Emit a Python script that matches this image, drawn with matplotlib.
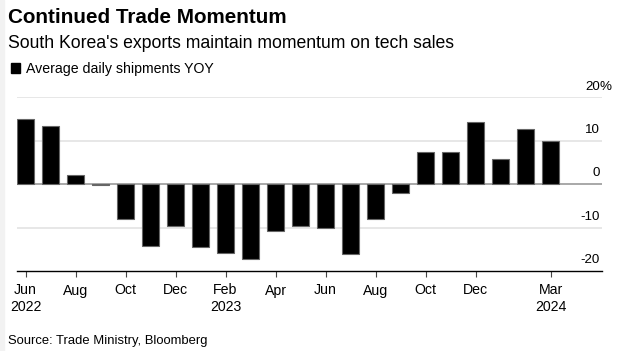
import numpy as np
import pandas as pd
import matplotlib
matplotlib.use("Agg")
import matplotlib.pyplot as plt
from matplotlib.patches import Rectangle

# Average daily shipments, YoY %, Jun 2022 - Mar 2024
months = pd.period_range("2022-06", "2024-03", freq="M")
yoy = [15.0, 13.3, 2.1, -0.3, -8.1, -14.2, -9.7, -14.4, -15.9, -17.3, -10.7,
       -9.6, -10.0, -16.1, -8.1, -2.0, 7.5, 7.4, 14.3, 5.9, 12.6, 10.0]

tick_months = ["2022-06", "2022-08", "2022-10", "2022-12", "2023-02", "2023-04",
               "2023-06", "2023-08", "2023-10", "2023-12", "2024-03"]
tick_labels = ["Jun\n2022", "Aug", "Oct", "Dec", "Feb\n2023", "Apr",
               "Jun", "Aug", "Oct", "Dec", "Mar\n2024"]
y_ticks = [20, 10, 0, -10, -20]

W, H = 621, 351
plt.rcParams["font.family"] = ["Liberation Sans", "DejaVu Sans"]

fig = plt.figure(figsize=(W / 100, H / 100), dpi=100)
fig.patch.set_facecolor("white")

def fx(px):
    return px / W

def fy(py):
    return 1 - py / H

# faint strip on the left edge
fig.patches.append(Rectangle((0, 0), fx(4), 1, transform=fig.transFigure,
                             color="#f2f2f2", zorder=0))

ax = fig.add_axes([fx(17), fy(271), fx(602 - 17), (271 - 97.3) / H])

x = np.arange(len(yoy))
ax.bar(x, yoy, width=0.69, color="black", edgecolor="#666666",
       linewidth=0.8, zorder=3)

ax.set_xlim(-0.34, 23.06)
ax.set_ylim(-20, 20)

# gridlines
for v in y_ticks:
    if v == -20:
        continue
    if v == 0:
        ax.axhline(v, color="#999999", lw=1.2, zorder=2)
    else:
        ax.axhline(v, color="#e3e3e3", lw=1.2, zorder=1)

# y labels on the right, sitting above the gridlines
for v in y_ticks:
    ax.annotate(str(v), xy=(1, v), xycoords=("axes fraction", "data"),
                xytext=(-1.5, 5.6), textcoords="offset points",
                ha="right", va="baseline", fontsize=9.6, color="black")
ax.annotate("%", xy=(1, y_ticks[0]), xycoords=("axes fraction", "data"),
            xytext=(-1.5, 5.6), textcoords="offset points",
            ha="left", va="baseline", fontsize=9.6, color="black",
            annotation_clip=False)

for s in ["top", "right", "left"]:
    ax.spines[s].set_visible(False)
ax.spines["bottom"].set_color("black")
ax.spines["bottom"].set_linewidth(1.0)
ax.set_yticks([])

pos = [months.get_loc(pd.Period(m, freq="M")) for m in tick_months]
ax.set_xticks(pos)
ax.set_xticklabels(tick_labels, fontsize=10.2, color="black", linespacing=1.25)
ax.tick_params(axis="x", length=4.5, width=0.8, color="#444444", pad=4.5)

# header
fig.text(fx(8), fy(22.7), "Continued Trade Momentum", fontsize=14.9,
         fontweight="bold", va="baseline", ha="left")
fig.text(fx(8), fy(48.3), "South Korea's exports maintain momentum on tech sales",
         fontsize=12.7, va="baseline", ha="left")
fig.patches.append(Rectangle((fx(11), fy(72.7)), fx(9), 9.4 / H,
                             transform=fig.transFigure, color="black"))
fig.text(fx(26), fy(72.7), "Average daily shipments YOY", fontsize=10.2,
         va="baseline", ha="left")

fig.text(fx(8), fy(344), "Source: Trade Ministry, Bloomberg", fontsize=9.4,
         va="baseline", ha="left")

fig.savefig("out.png", dpi=100)
